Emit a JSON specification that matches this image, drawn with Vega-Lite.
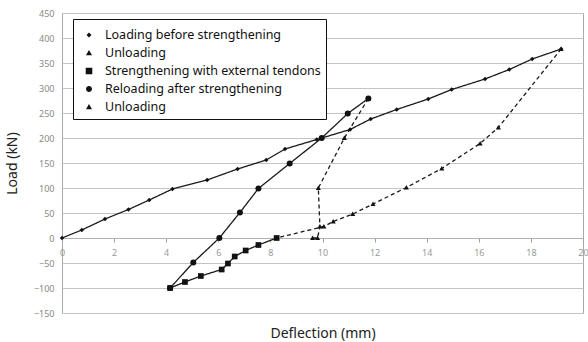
{
  "$schema": "https://vega.github.io/schema/vega-lite/v6.json",
  "width": 521,
  "height": 300,
  "autosize": "none",
  "padding": {"left": 62, "top": 13, "right": 5, "bottom": 29},
  "background": "white",
  "config": {
    "view": {"stroke": "#a8a8a8", "strokeWidth": 1},
    "font": "Noto Sans"
  },
  "data": {
    "values": [
      {"series": "Loading before strengthening", "i": 0, "x": 0, "y": 0},
      {"series": "Loading before strengthening", "i": 1, "x": 0.76, "y": 16},
      {"series": "Loading before strengthening", "i": 2, "x": 1.65, "y": 38},
      {"series": "Loading before strengthening", "i": 3, "x": 2.55, "y": 57},
      {"series": "Loading before strengthening", "i": 4, "x": 3.35, "y": 76},
      {"series": "Loading before strengthening", "i": 5, "x": 4.24, "y": 98},
      {"series": "Loading before strengthening", "i": 6, "x": 5.57, "y": 116},
      {"series": "Loading before strengthening", "i": 7, "x": 6.74, "y": 138},
      {"series": "Loading before strengthening", "i": 8, "x": 7.84, "y": 156},
      {"series": "Loading before strengthening", "i": 9, "x": 8.56, "y": 178},
      {"series": "Loading before strengthening", "i": 10, "x": 9.78, "y": 197},
      {"series": "Loading before strengthening", "i": 11, "x": 11.06, "y": 217},
      {"series": "Loading before strengthening", "i": 12, "x": 11.85, "y": 238},
      {"series": "Loading before strengthening", "i": 13, "x": 12.85, "y": 257},
      {"series": "Loading before strengthening", "i": 14, "x": 14.06, "y": 278},
      {"series": "Loading before strengthening", "i": 15, "x": 14.96, "y": 297},
      {"series": "Loading before strengthening", "i": 16, "x": 16.24, "y": 318},
      {"series": "Loading before strengthening", "i": 17, "x": 17.17, "y": 337},
      {"series": "Loading before strengthening", "i": 18, "x": 18.05, "y": 358},
      {"series": "Loading before strengthening", "i": 19, "x": 19.16, "y": 378},
      {"series": "Unloading 1", "i": 0, "x": 19.16, "y": 378},
      {"series": "Unloading 1", "i": 1, "x": 16.75, "y": 221},
      {"series": "Unloading 1", "i": 2, "x": 16.05, "y": 189},
      {"series": "Unloading 1", "i": 3, "x": 14.58, "y": 139},
      {"series": "Unloading 1", "i": 4, "x": 13.22, "y": 101},
      {"series": "Unloading 1", "i": 5, "x": 11.94, "y": 68},
      {"series": "Unloading 1", "i": 6, "x": 11.16, "y": 48},
      {"series": "Unloading 1", "i": 7, "x": 10.41, "y": 33},
      {"series": "Unloading 1", "i": 8, "x": 10.05, "y": 23},
      {"series": "Unloading 1", "i": 9, "x": 8.24, "y": 0},
      {"series": "Strengthening with external tendons", "i": 0, "x": 8.24, "y": 0},
      {"series": "Strengthening with external tendons", "i": 1, "x": 7.54, "y": -14},
      {"series": "Strengthening with external tendons", "i": 2, "x": 7.05, "y": -25},
      {"series": "Strengthening with external tendons", "i": 3, "x": 6.63, "y": -37},
      {"series": "Strengthening with external tendons", "i": 4, "x": 6.37, "y": -51},
      {"series": "Strengthening with external tendons", "i": 5, "x": 6.13, "y": -63},
      {"series": "Strengthening with external tendons", "i": 6, "x": 5.33, "y": -76},
      {"series": "Strengthening with external tendons", "i": 7, "x": 4.72, "y": -88},
      {"series": "Strengthening with external tendons", "i": 8, "x": 4.15, "y": -100},
      {"series": "Reloading after strengthening", "i": 0, "x": 4.15, "y": -100},
      {"series": "Reloading after strengthening", "i": 1, "x": 5.04, "y": -49},
      {"series": "Reloading after strengthening", "i": 2, "x": 6.04, "y": 0},
      {"series": "Reloading after strengthening", "i": 3, "x": 6.83, "y": 51},
      {"series": "Reloading after strengthening", "i": 4, "x": 7.54, "y": 99},
      {"series": "Reloading after strengthening", "i": 5, "x": 8.74, "y": 149},
      {"series": "Reloading after strengthening", "i": 6, "x": 9.97, "y": 200},
      {"series": "Reloading after strengthening", "i": 7, "x": 10.97, "y": 249},
      {"series": "Reloading after strengthening", "i": 8, "x": 11.76, "y": 279},
      {"series": "Unloading 2", "i": 0, "x": 11.76, "y": 279},
      {"series": "Unloading 2", "i": 1, "x": 10.84, "y": 200},
      {"series": "Unloading 2", "i": 2, "x": 9.84, "y": 100},
      {"series": "Unloading 2", "i": 3, "x": 9.9, "y": 23},
      {"series": "Unloading 2", "i": 4, "x": 9.81, "y": 0},
      {"series": "Unloading 2", "i": 5, "x": 9.62, "y": 0}
    ]
  },
  "encoding": {
    "x": {
      "field": "x",
      "type": "quantitative",
      "scale": {"domain": [0, 20], "nice": false, "zero": false},
      "axis": {
        "values": [0, 2, 4, 6, 8, 10, 12, 14, 16, 18, 20],
        "offset": -75,
        "grid": false,
        "domainColor": "#b0b0b0",
        "tickColor": "#a0a0a0",
        "tickSize": 4,
        "labelPadding": 6,
        "labelFontSize": 9,
        "labelColor": "#999999",
        "labelFlush": false,
        "title": "Deflection (mm)",
        "titleFontSize": 14,
        "titleFontWeight": "normal",
        "titleColor": "#222222",
        "titleY": 95,
        "titleBaseline": "middle"
      }
    },
    "y": {
      "field": "y",
      "type": "quantitative",
      "scale": {"domain": [-150, 450], "nice": false, "zero": false},
      "axis": {
        "values": [-150, -100, -50, 0, 50, 100, 150, 200, 250, 300, 350, 400, 450],
        "grid": true,
        "gridColor": "#c4c4c4",
        "domain": false,
        "ticks": false,
        "labelPadding": 8,
        "labelFontSize": 9,
        "labelColor": "#888888",
        "title": "Load (kN)",
        "titleFontSize": 14,
        "titleFontWeight": "normal",
        "titleColor": "#222222",
        "titleX": -50,
        "titleY": 150,
        "titleAngle": -90,
        "titleAlign": "center",
        "titleBaseline": "middle"
      }
    }
  },
  "layer": [
    {
      "mark": {"type": "line", "color": "#1a1a1a", "strokeWidth": 1.3},
      "encoding": {
        "detail": {"field": "series"},
        "order": {"field": "i", "type": "quantitative"},
        "strokeDash": {
          "field": "series",
          "type": "nominal",
          "scale": {
            "domain": ["Unloading 1", "Unloading 2", "Loading before strengthening", "Strengthening with external tendons", "Reloading after strengthening"],
            "range": [[4, 3], [4, 3], [1, 0], [1, 0], [1, 0]]
          },
          "legend": null
        }
      }
    },
    {
      "mark": {"type": "point", "filled": true, "color": "#111111", "opacity": 1, "size": 36},
      "encoding": {
        "shape": {
          "field": "series",
          "type": "nominal",
          "scale": {
            "domain": ["Reloading after strengthening", "Unloading 2", "Unloading 1", "Strengthening with external tendons", "Loading before strengthening"],
            "range": ["circle", "M0,-0.85L0.85,0.7H-0.85Z", "M0,-0.85L0.85,0.7H-0.85Z", "M-0.95,-0.95H0.95V0.95H-0.95Z", "M0,-0.75L0.75,0L0,0.75L-0.75,0Z"]
          },
          "legend": null
        }
      }
    },
    {
      "transform": [{"filter": "false"}],
      "mark": {"type": "point", "filled": true, "color": "#111111", "stroke": "#111111", "strokeWidth": 1.2, "opacity": 1, "size": 400},
      "encoding": {
        "shape": {
          "field": "series",
          "type": "nominal",
          "scale": {
            "domain": ["Loading before strengthening", "Unloading 1", "Strengthening with external tendons", "Reloading after strengthening", "Unloading 2"],
            "range": [
              "M-1,0H1M0,-0.25L0.25,0L0,0.25L-0.25,0Z",
              "M-0.8,0H-0.4M0.4,0H0.8M0,-0.3L0.3,0.22H-0.3Z",
              "M-1,0H1M-0.33,-0.33H0.33V0.33H-0.33Z",
              "M-1,0H1M0.3,0A0.3,0.3,0,1,1,-0.3,0A0.3,0.3,0,1,1,0.3,0Z",
              "M-0.8,0H-0.4M0.4,0H0.8M0,-0.3L0.3,0.22H-0.3Z"
            ]
          },
          "legend": {
            "orient": "none",
            "legendX": 11,
            "legendY": 6,
            "title": null,
            "strokeColor": "#111111",
            "fillColor": "white",
            "padding": 5,
            "rowPadding": 0,
            "labelFontSize": 12.5,
            "labelFont": "Noto Sans",
            "labelColor": "#111111",
            "labelOffset": 5,
            "labelLimit": 400,
            "symbolSize": 400,
            "symbolFillColor": "#111111",
            "symbolStrokeColor": "#111111",
            "symbolStrokeWidth": 1.2,
            "labelExpr": "datum.label == 'Unloading 1' || datum.label == 'Unloading 2' ? 'Unloading' : datum.label"
          }
        }
      }
    }
  ],
  "resolve": {"scale": {"shape": "independent"}}
}
